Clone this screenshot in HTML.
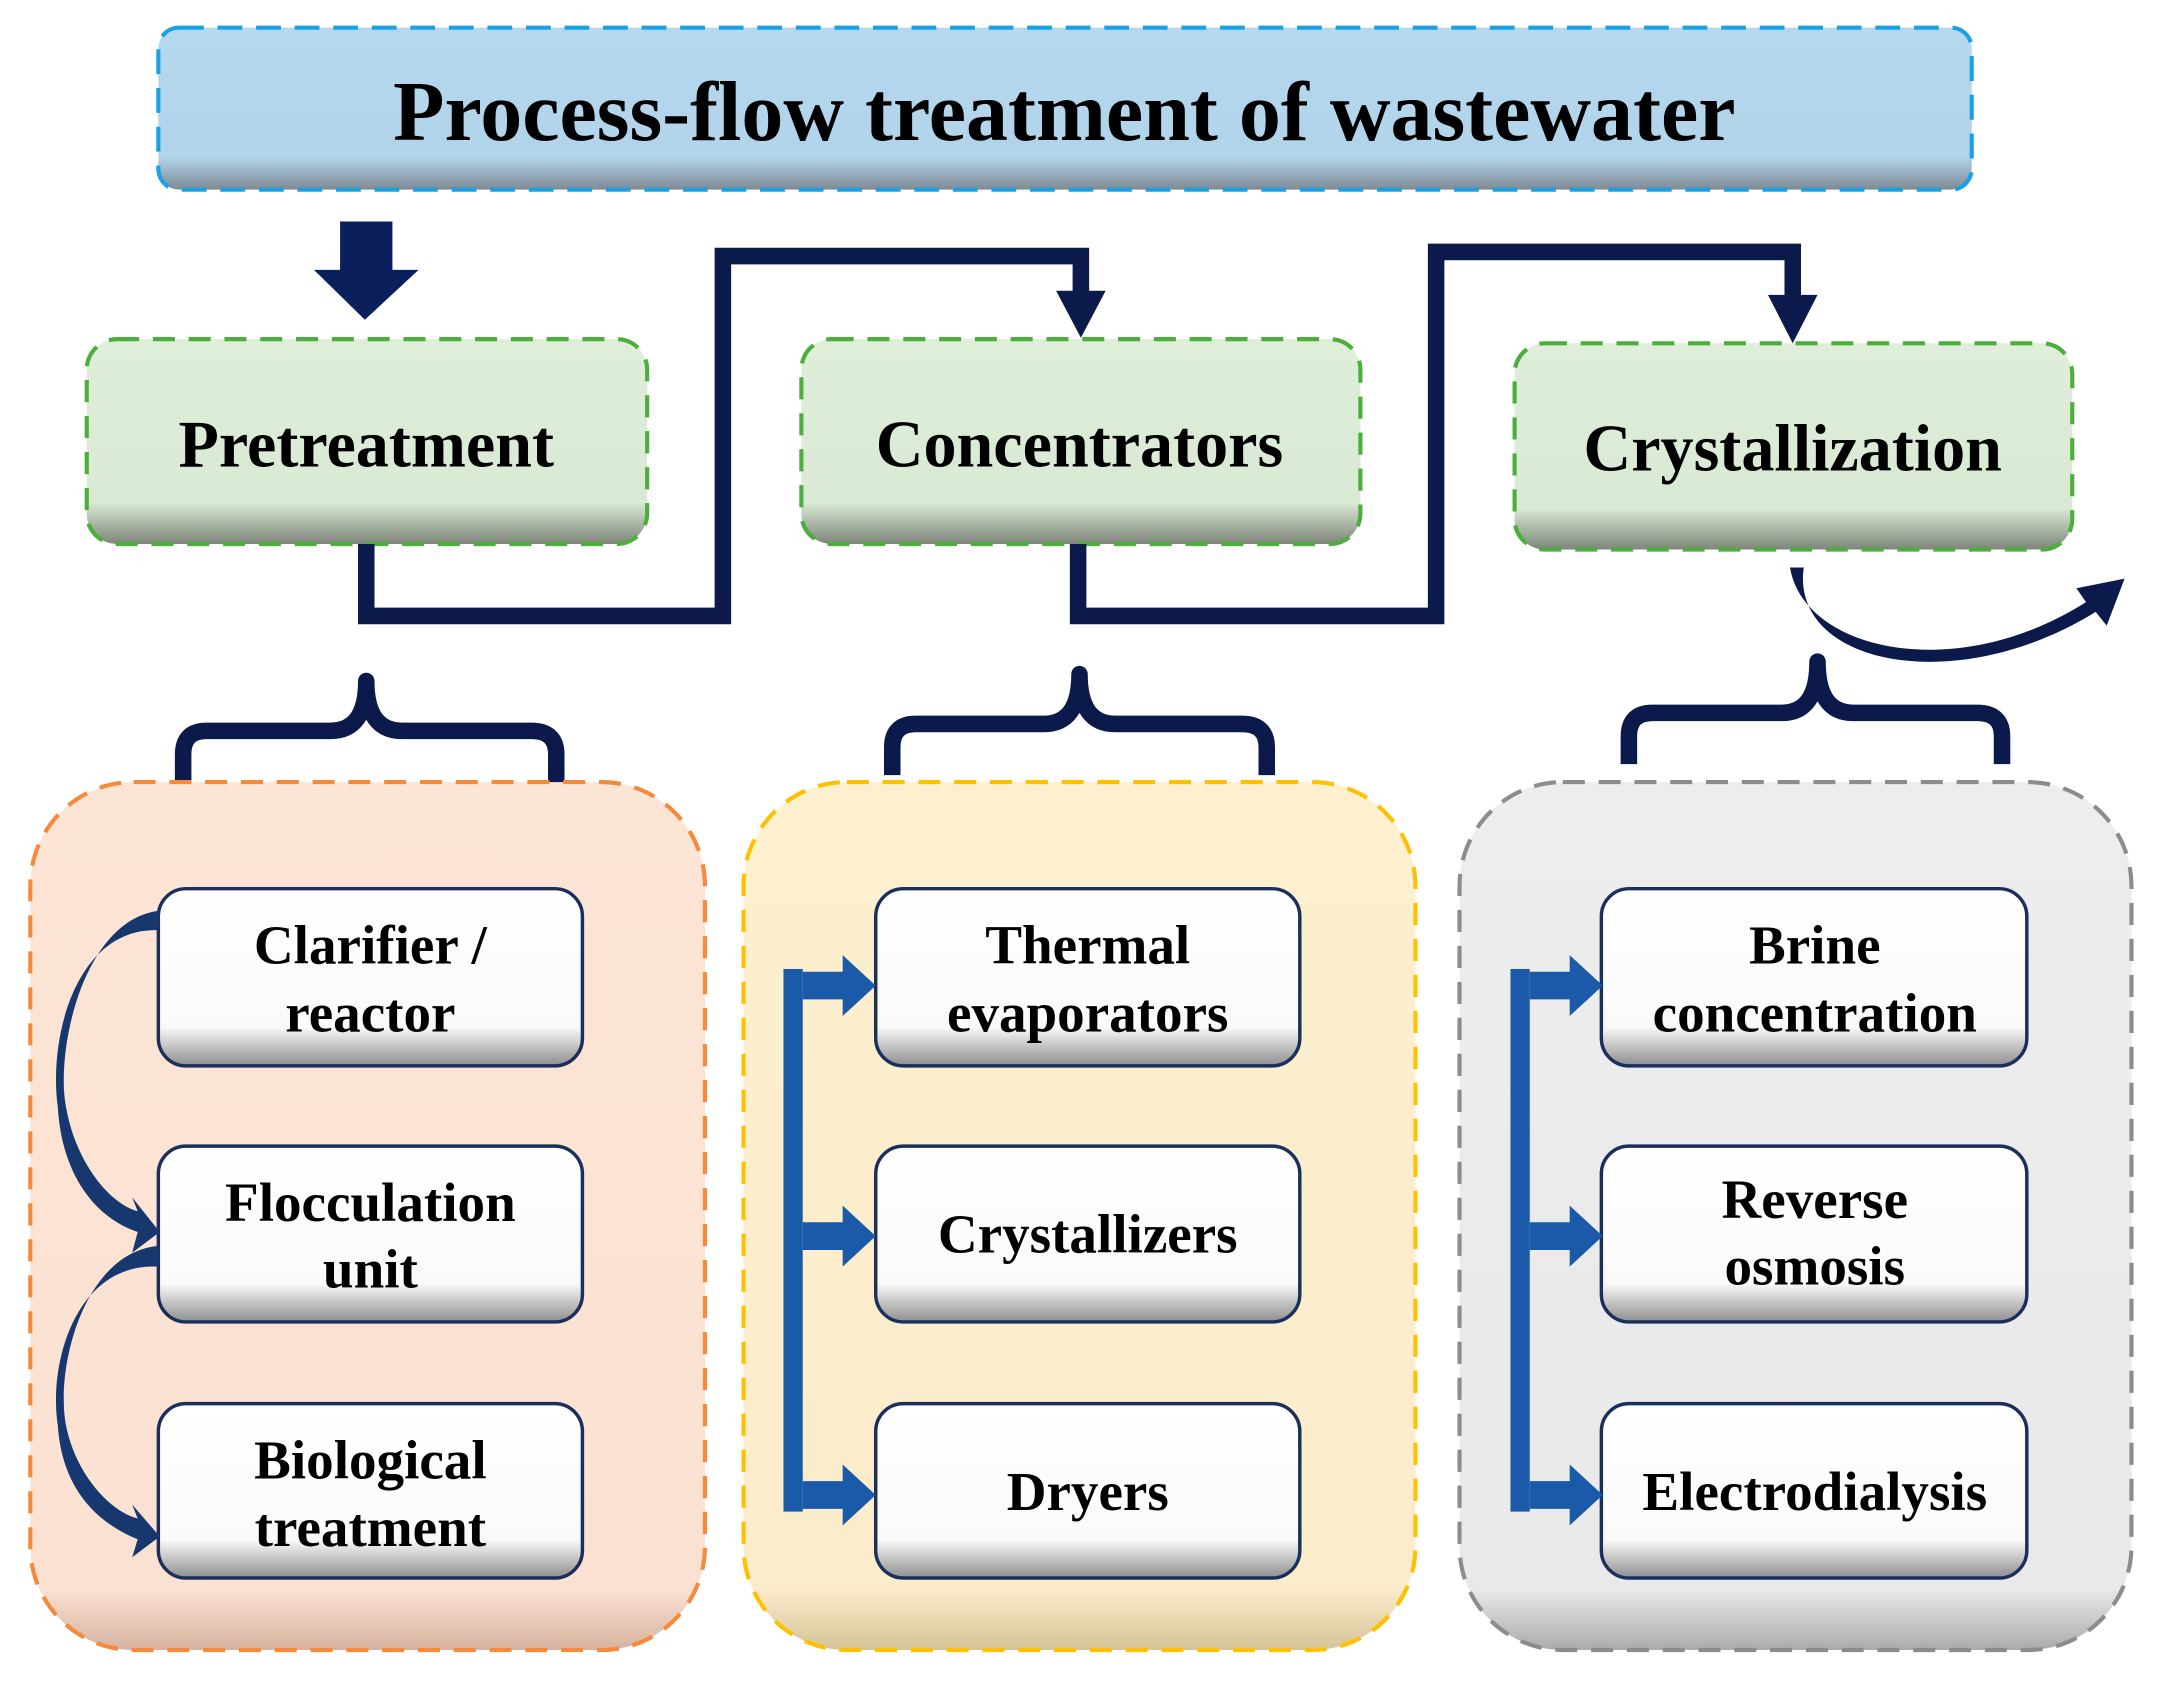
<!DOCTYPE html>
<html><head><meta charset="utf-8"><style>
html,body{margin:0;padding:0;background:#fff;}
svg{display:block;}
text{font-family:"Liberation Serif",serif;font-weight:bold;fill:#000;text-anchor:middle;}
</style></head><body>
<svg width="2159" height="1686" viewBox="0 0 1568 1218" preserveAspectRatio="none" xmlns="http://www.w3.org/2000/svg">
<defs>
<linearGradient id="gB" x1="0" y1="0" x2="0" y2="1"><stop offset="0" stop-color="#b6d8ef"/><stop offset="0.8" stop-color="#b2d4ea"/><stop offset="1" stop-color="#7f8a94"/></linearGradient>
<linearGradient id="gG" x1="0" y1="0" x2="0" y2="1"><stop offset="0" stop-color="#deeed9"/><stop offset="0.8" stop-color="#d9e9d4"/><stop offset="1" stop-color="#7d8579"/></linearGradient>
<linearGradient id="gW" x1="0" y1="0" x2="0" y2="1"><stop offset="0" stop-color="#fff"/><stop offset="0.78" stop-color="#fafafa"/><stop offset="1" stop-color="#8e8e8e"/></linearGradient>
<linearGradient id="gO" x1="0" y1="0" x2="0" y2="1"><stop offset="0" stop-color="#fde5d6"/><stop offset="0.93" stop-color="#fbe1d1"/><stop offset="1" stop-color="#d6b3a0"/></linearGradient>
<linearGradient id="gY" x1="0" y1="0" x2="0" y2="1"><stop offset="0" stop-color="#fdf0cf"/><stop offset="0.93" stop-color="#fbeccb"/><stop offset="1" stop-color="#d6c398"/></linearGradient>
<linearGradient id="gS" x1="0" y1="0" x2="0" y2="1"><stop offset="0" stop-color="#ededed"/><stop offset="0.93" stop-color="#e9e9e9"/><stop offset="1" stop-color="#ababab"/></linearGradient>
</defs>

<rect x="115" y="20" width="1317" height="117" rx="15" fill="url(#gB)" stroke="#1ba1e2" stroke-width="3" stroke-dasharray="18 10"/>
<text x="773" y="101" font-size="61">Process-flow treatment of wastewater</text>

<path d="M247 160 H285 V195 H304 L265 231 L228 195 H247 Z" fill="#0a1f5c"/>

<rect x="63" y="245" width="407" height="148" rx="22" fill="url(#gG)" stroke="#4cae3c" stroke-width="3" stroke-dasharray="16 10"/>
<rect x="582" y="245" width="406" height="148" rx="22" fill="url(#gG)" stroke="#4cae3c" stroke-width="3" stroke-dasharray="16 10"/>
<rect x="1100" y="248" width="405" height="149" rx="22" fill="url(#gG)" stroke="#4cae3c" stroke-width="3" stroke-dasharray="16 10"/>
<text x="266" y="337" font-size="48">Pretreatment</text>
<text x="784" y="337" font-size="48">Concentrators</text>
<text x="1302" y="340" font-size="48">Crystallization</text>

<g fill="none" stroke="#0b1a4a" stroke-width="12">
<path d="M266 393 V445 H525 V185 H785 V212"/>
<path d="M783 393 V445 H1043 V182 H1302 V215"/>
</g>
<path d="M767 210 H803 L785 244 Z" fill="#0b1a4a"/>
<path d="M1284 213 H1320 L1302 248 Z" fill="#0b1a4a"/>
<path d="M1300 410 C1310 470 1420 495 1515 435 L1508 425 L1543 418 L1530 452 L1522 442 C1420 505 1300 480 1310 410 Z" fill="#0b1a4a"/>

<g fill="none" stroke="#0b1a4a" stroke-width="12" stroke-linejoin="round">
<path d="M133 567 V545 Q133 528 150 528 H240 Q266 528 266 492 Q266 528 292 528 H386 Q404 528 404 545 V567"/>
<path d="M648 560 V540 Q648 523 665 523 H758 Q784 523 784 487 Q784 523 810 523 H902 Q920 523 920 540 V560"/>
<path d="M1183 552 V532 Q1183 515 1200 515 H1294 Q1320 515 1320 478 Q1320 515 1346 515 H1436 Q1454 515 1454 532 V552"/>
</g>

<rect x="22" y="565" width="490" height="627" rx="75" fill="url(#gO)" stroke="#f58a3b" stroke-width="3" stroke-dasharray="16 10"/>
<rect x="540" y="565" width="488" height="627" rx="75" fill="url(#gY)" stroke="#ffc000" stroke-width="3" stroke-dasharray="16 10"/>
<rect x="1060" y="565" width="488" height="627" rx="75" fill="url(#gS)" stroke="#8c8c8c" stroke-width="3" stroke-dasharray="16 10"/>

<g fill="url(#gW)" stroke="#1b2f5c" stroke-width="2.5">
<rect x="115" y="642" width="308" height="128" rx="20"/>
<rect x="115" y="828" width="308" height="127" rx="20"/>
<rect x="115" y="1014" width="308" height="126" rx="20"/>
<rect x="636" y="642" width="308" height="128" rx="20"/>
<rect x="636" y="828" width="308" height="127" rx="20"/>
<rect x="636" y="1014" width="308" height="126" rx="20"/>
<rect x="1163" y="642" width="309" height="128" rx="20"/>
<rect x="1163" y="828" width="309" height="127" rx="20"/>
<rect x="1163" y="1014" width="309" height="126" rx="20"/>
</g>
<g font-size="40">
<text x="269" y="696">Clarifier /</text><text x="269" y="745">reactor</text>
<text x="269" y="882">Flocculation</text><text x="269" y="930">unit</text>
<text x="269" y="1068">Biological</text><text x="269" y="1117">treatment</text>
<text x="790" y="696">Thermal</text><text x="790" y="745">evaporators</text>
<text x="790" y="905">Crystallizers</text>
<text x="790" y="1091">Dryers</text>
<text x="1318" y="696">Brine</text><text x="1318" y="745">concentration</text>
<text x="1318" y="880">Reverse</text><text x="1318" y="928">osmosis</text>
<text x="1318" y="1091">Electrodialysis</text>
</g>

<g fill="#17386e">
<path d="M115 658 C60 665 40 760 48 800 C55 840 80 870 100 875 L96 865 L116 890 L96 905 L100 890 C70 880 45 850 42 800 C35 750 55 670 115 672 Z"/>
<path d="M115 900 C60 905 40 990 48 1030 C55 1065 80 1092 100 1097 L96 1087 L116 1110 L96 1125 L100 1112 C70 1100 45 1075 42 1030 C35 985 55 912 115 915 Z"/>
</g>

<g fill="#1a5aa8">
<rect x="569" y="700" width="14" height="392"/>
<path d="M583 702 H612 V690 L636 712 L612 734 V722 H583 Z"/>
<path d="M583 883 H612 V871 L636 893 L612 915 V903 H583 Z"/>
<path d="M583 1070 H612 V1058 L636 1080 L612 1102 V1090 H583 Z"/>
<rect x="1097" y="700" width="14" height="392"/>
<path d="M1111 702 H1140 V690 L1164 712 L1140 734 V722 H1111 Z"/>
<path d="M1111 883 H1140 V871 L1164 893 L1140 915 V903 H1111 Z"/>
<path d="M1111 1070 H1140 V1058 L1164 1080 L1140 1102 V1090 H1111 Z"/>
</g>
</svg>
</body></html>
